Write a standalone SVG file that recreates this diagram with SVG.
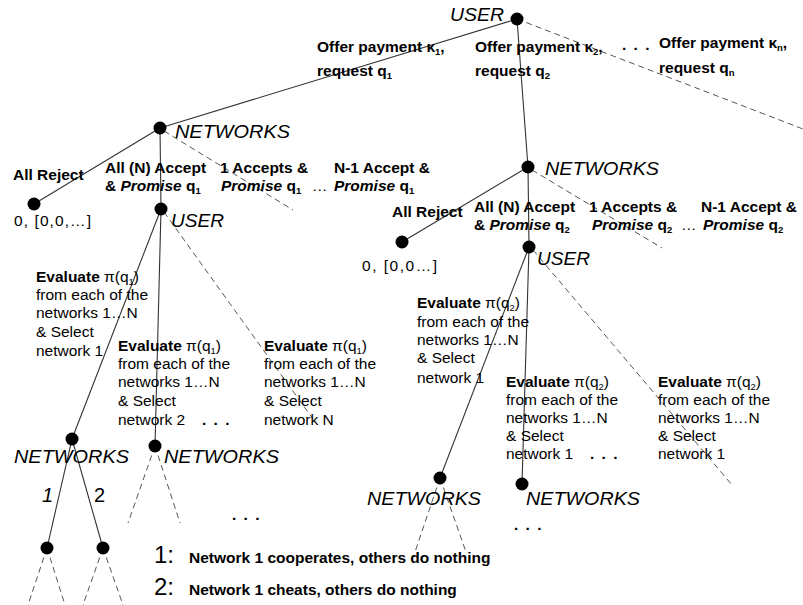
<svg xmlns="http://www.w3.org/2000/svg" width="803" height="605" viewBox="0 0 803 605">
<style>
.bg{fill:#fff}
.n{fill:#000}
.s{stroke:#333;stroke-width:1.1;fill:none}
.d{stroke:#555;stroke-width:1;stroke-dasharray:6 4;fill:none}
text{fill:#000;font-family:"Liberation Sans",Arial,sans-serif}
.b{font-weight:bold;font-size:15.5px}
.r{font-size:15.5px}
.i{font-style:italic;font-size:17.5px}
.bi{font-style:italic}
.sub{font-size:9.5px}
.big{font-size:24px}
.br{font-size:20px}
</style>
<rect class="bg" x="0" y="0" width="803" height="605"/>

<g id="connectors">
  <line class="s" x1="517" y1="19" x2="160" y2="128"/>
  <line class="s" x1="517" y1="19" x2="528" y2="167"/>
  <line class="d" x1="517" y1="19" x2="803" y2="129"/>
  <line class="s" x1="160" y1="128" x2="34" y2="204"/>
  <line class="s" x1="160" y1="128" x2="161" y2="209"/>
  <line class="d" x1="164" y1="131" x2="293" y2="210"/>
  <line class="s" x1="161" y1="209" x2="72" y2="439"/>
  <line class="s" x1="161" y1="209" x2="155" y2="446"/>
  <line class="d" x1="164" y1="212" x2="313" y2="419"/>
  <line class="s" x1="72" y1="439" x2="47" y2="548"/>
  <line class="s" x1="72" y1="439" x2="103" y2="548"/>
  <line class="d" x1="155" y1="446" x2="128" y2="523"/>
  <line class="d" x1="155" y1="446" x2="180" y2="523"/>
  <line class="d" x1="47" y1="548" x2="28" y2="605"/>
  <line class="d" x1="47" y1="548" x2="65" y2="605"/>
  <line class="d" x1="103" y1="548" x2="83" y2="605"/>
  <line class="d" x1="103" y1="548" x2="123" y2="605"/>
  <line class="s" x1="528" y1="167" x2="402" y2="242"/>
  <line class="s" x1="528" y1="167" x2="529" y2="247"/>
  <line class="d" x1="532" y1="170" x2="662" y2="248"/>
  <line class="s" x1="529" y1="247" x2="440" y2="478"/>
  <line class="s" x1="529" y1="247" x2="522" y2="484"/>
  <line class="d" x1="533" y1="250" x2="732" y2="485"/>
  <line class="d" x1="440" y1="478" x2="415" y2="552"/>
  <line class="d" x1="440" y1="478" x2="466" y2="552"/>
</g>

<g id="edge-labels">
  <text class="b" x="317" y="52">Offer payment κ<tspan class="sub" dy="3">1</tspan><tspan dy="-3">,</tspan></text>
  <text class="b" x="317" y="76">request q<tspan class="sub" dy="3">1</tspan></text>
  <text class="b" x="475" y="52">Offer payment κ<tspan class="sub" dy="3">2</tspan><tspan dy="-3">,</tspan></text>
  <text class="b" x="475" y="76">request q<tspan class="sub" dy="3">2</tspan></text>
  <text class="b" x="622" y="50" letter-spacing="1.5">. . .</text>
  <text class="b" x="659" y="48">Offer payment κ<tspan class="sub" dy="3">n</tspan><tspan dy="-3">,</tspan></text>
  <text class="b" x="659" y="73">request q<tspan class="sub" dy="3">n</tspan></text>

  <text class="b" x="13" y="180">All Reject</text>
  <text class="b" x="105" y="173">All (N) Accept</text>
  <text class="b" x="105" y="191">&amp; <tspan class="bi">Promise</tspan> q<tspan class="sub" dy="3">1</tspan></text>
  <text class="b" x="220" y="173">1 Accepts &amp;</text>
  <text class="b" x="221" y="191"><tspan class="bi">Promise</tspan> q<tspan class="sub" dy="3">1</tspan></text>
  <text class="r" x="312" y="191">…</text>
  <text class="b" x="334" y="173">N-1 Accept &amp;</text>
  <text class="b" x="334" y="191"><tspan class="bi">Promise</tspan> q<tspan class="sub" dy="3">1</tspan></text>

  <text class="b" x="392" y="217">All Reject</text>
  <text class="b" x="474" y="212">All (N) Accept</text>
  <text class="b" x="474" y="230">&amp; <tspan class="bi">Promise</tspan> q<tspan class="sub" dy="3">2</tspan></text>
  <text class="b" x="589" y="212">1 Accepts &amp;</text>
  <text class="b" x="592" y="230"><tspan class="bi">Promise</tspan> q<tspan class="sub" dy="3">2</tspan></text>
  <text class="r" x="681" y="230">…</text>
  <text class="b" x="701" y="212">N-1 Accept &amp;</text>
  <text class="b" x="703" y="230"><tspan class="bi">Promise</tspan> q<tspan class="sub" dy="3">2</tspan></text>

  <text class="r" x="36" y="282"><tspan class="b">Evaluate</tspan> π(q<tspan class="sub" dy="3">1</tspan><tspan dy="-3">)</tspan></text>
  <text class="r" x="36" y="300">from each of the</text>
  <text class="r" x="36" y="318">networks 1…N</text>
  <text class="r" x="36" y="337">&amp; Select</text>
  <text class="r" x="36" y="356">network 1</text>

  <text class="r" x="118" y="351"><tspan class="b">Evaluate</tspan> π(q<tspan class="sub" dy="3">1</tspan><tspan dy="-3">)</tspan></text>
  <text class="r" x="118" y="369">from each of the</text>
  <text class="r" x="118" y="387">networks 1…N</text>
  <text class="r" x="118" y="406">&amp; Select</text>
  <text class="r" x="118" y="425">network 2</text>
  <text class="b" x="202" y="425" letter-spacing="1.5">. . .</text>

  <text class="r" x="264" y="351"><tspan class="b">Evaluate</tspan> π(q<tspan class="sub" dy="3">1</tspan><tspan dy="-3">)</tspan></text>
  <text class="r" x="264" y="369">from each of the</text>
  <text class="r" x="264" y="387">networks 1…N</text>
  <text class="r" x="264" y="406">&amp; Select</text>
  <text class="r" x="264" y="425">network N</text>

  <text class="r" x="417" y="308"><tspan class="b">Evaluate</tspan> π(q<tspan class="sub" dy="3">2</tspan><tspan dy="-3">)</tspan></text>
  <text class="r" x="417" y="327">from each of the</text>
  <text class="r" x="417" y="345">networks 1…N</text>
  <text class="r" x="417" y="363">&amp; Select</text>
  <text class="r" x="417" y="383">network 1</text>

  <text class="r" x="506" y="387"><tspan class="b">Evaluate</tspan> π(q<tspan class="sub" dy="3">2</tspan><tspan dy="-3">)</tspan></text>
  <text class="r" x="506" y="405">from each of the</text>
  <text class="r" x="506" y="423">networks 1…N</text>
  <text class="r" x="506" y="441">&amp; Select</text>
  <text class="r" x="506" y="459">network 1</text>
  <text class="b" x="590" y="459" letter-spacing="1.5">. . .</text>

  <text class="r" x="658" y="387"><tspan class="b">Evaluate</tspan> π(q<tspan class="sub" dy="3">2</tspan><tspan dy="-3">)</tspan></text>
  <text class="r" x="658" y="405">from each of the</text>
  <text class="r" x="658" y="423">networks 1…N</text>
  <text class="r" x="658" y="441">&amp; Select</text>
  <text class="r" x="658" y="459">network 1</text>

  <text class="br" x="42" y="502" font-style="italic">1</text>
  <text class="br" x="94" y="502">2</text>
  <text class="b" x="232" y="520" letter-spacing="1.5">. . .</text>
  <text class="b" x="514" y="530" letter-spacing="1.5">. . .</text>
</g>

<g id="node-root-user">
  <circle class="n" cx="517" cy="19" r="6.5"/>
  <text class="i" x="450" y="21" textLength="54" lengthAdjust="spacingAndGlyphs">USER</text>
</g>
<g id="node-networks-1">
  <circle class="n" cx="160" cy="128" r="6.5"/>
  <text class="i" x="175" y="138" textLength="115" lengthAdjust="spacingAndGlyphs">NETWORKS</text>
</g>
<g id="node-reject-1">
  <circle class="n" cx="34" cy="204" r="6.5"/>
  <text class="r" x="14" y="226" textLength="77" lengthAdjust="spacing">0, [0,0,…]</text>
</g>
<g id="node-user-1">
  <circle class="n" cx="161" cy="209" r="6.5"/>
  <text class="i" x="171" y="227" textLength="53" lengthAdjust="spacingAndGlyphs">USER</text>
</g>
<g id="node-networks-1-1">
  <circle class="n" cx="72" cy="439" r="6.5"/>
  <text class="i" x="14" y="463" textLength="115" lengthAdjust="spacingAndGlyphs">NETWORKS</text>
</g>
<g id="node-networks-1-2">
  <circle class="n" cx="155" cy="446" r="6.5"/>
  <text class="i" x="164" y="463" textLength="115" lengthAdjust="spacingAndGlyphs">NETWORKS</text>
</g>
<g id="node-leaf-1">
  <circle class="n" cx="47" cy="548" r="6.5"/>
</g>
<g id="node-leaf-2">
  <circle class="n" cx="103" cy="548" r="6.5"/>
</g>
<g id="node-networks-2">
  <circle class="n" cx="528" cy="167" r="6.5"/>
  <text class="i" x="545" y="175" textLength="114" lengthAdjust="spacingAndGlyphs">NETWORKS</text>
</g>
<g id="node-reject-2">
  <circle class="n" cx="402" cy="242" r="6.5"/>
  <text class="r" x="362" y="271" textLength="75" lengthAdjust="spacing">0, [0,0…]</text>
</g>
<g id="node-user-2">
  <circle class="n" cx="529" cy="247" r="6.5"/>
  <text class="i" x="537" y="265" textLength="53" lengthAdjust="spacingAndGlyphs">USER</text>
</g>
<g id="node-networks-2-1">
  <circle class="n" cx="440" cy="478" r="6.5"/>
  <text class="i" x="367" y="505" textLength="114" lengthAdjust="spacingAndGlyphs">NETWORKS</text>
</g>
<g id="node-networks-2-2">
  <circle class="n" cx="522" cy="484" r="6.5"/>
  <text class="i" x="526" y="505" textLength="114" lengthAdjust="spacingAndGlyphs">NETWORKS</text>
</g>

<g id="legend">
  <text class="big" x="154" y="563">1:</text>
  <text class="b" x="189" y="563">Network 1 cooperates, others do nothing</text>
  <text class="big" x="154" y="595">2:</text>
  <text class="b" x="189" y="595">Network 1 cheats, others do nothing</text>
</g>
</svg>
